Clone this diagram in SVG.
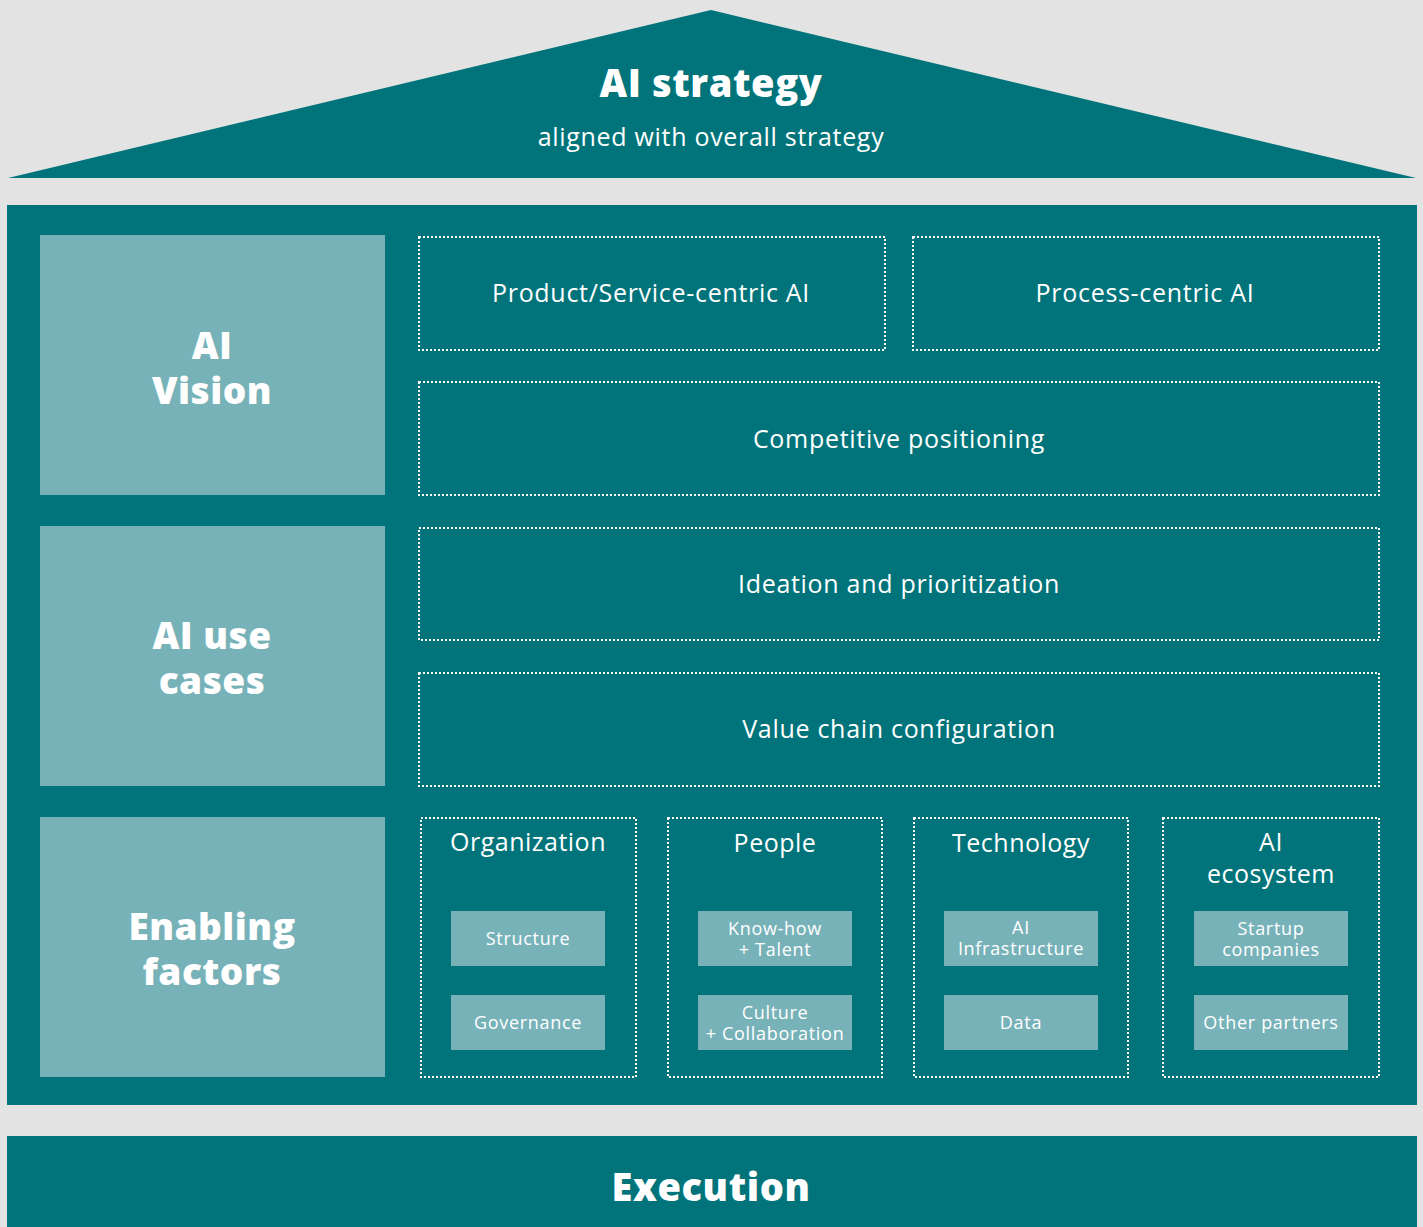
<svg xmlns="http://www.w3.org/2000/svg" width="1423" height="1227" viewBox="0 0 1423 1227">
<style>
.teal{fill:#00747a}
.light{fill:#78b2b9}
.dot{fill:none;stroke:#ffffff;stroke-width:2;stroke-dasharray:2 2}
text{font-family:"Open Sans","Liberation Sans",sans-serif;fill:#ffffff;text-anchor:middle}
.big{font-weight:800;font-size:37px;letter-spacing:0.5px}
.title{font-weight:800;font-size:38px;letter-spacing:0.6px}
.lbl{font-size:25px;letter-spacing:0.7px}
.cat{font-size:25px;letter-spacing:0.5px}
.sm{font-size:18px;letter-spacing:0.7px}
</style>
<rect width="1423" height="1227" fill="#e3e3e3"/>
<g id="roof">
<polygon class="teal" points="711,10 1416,178 8,178"/>
<text class="title" x="711" y="97">AI strategy</text>
<text class="lbl" x="711" y="146">aligned with overall strategy</text>
</g>
<g id="body">
<rect class="teal" x="7" y="205" width="1410" height="900"/>
</g>
<g id="ai-vision">
<rect class="light" x="40" y="235" width="345" height="260"/>
<text class="big"><tspan x="212" y="359">AI</tspan><tspan x="212" y="404">Vision</tspan></text>
</g>
<g id="ai-use-cases">
<rect class="light" x="40" y="526" width="345" height="260"/>
<text class="big"><tspan x="212" y="649">AI use</tspan><tspan x="212" y="694">cases</tspan></text>
</g>
<g id="enabling-factors">
<rect class="light" x="40" y="817" width="345" height="260"/>
<text class="big"><tspan x="212" y="940">Enabling</tspan><tspan x="212" y="985">factors</tspan></text>
</g>
<g id="product-service">
<rect class="dot" x="419" y="237" width="466" height="113"/>
<text class="lbl" x="651" y="302">Product/Service-centric AI</text>
</g>
<g id="process">
<rect class="dot" x="913" y="237" width="466" height="113"/>
<text class="lbl" x="1145" y="302">Process-centric AI</text>
</g>
<g id="competitive">
<rect class="dot" x="419" y="382" width="960" height="113"/>
<text class="lbl" x="899" y="448">Competitive positioning</text>
</g>
<g id="ideation">
<rect class="dot" x="419" y="528" width="960" height="112"/>
<text class="lbl" x="899" y="593">Ideation and prioritization</text>
</g>
<g id="value-chain">
<rect class="dot" x="419" y="673" width="960" height="113"/>
<text class="lbl" x="899" y="738">Value chain configuration</text>
</g>
<g id="organization">
<rect class="dot" x="421" y="818" width="215" height="259"/>
<text class="cat" x="528" y="851">Organization</text>
<rect class="light" x="451" y="911" width="154" height="55"/>
<text class="sm" x="528" y="945">Structure</text>
<rect class="light" x="451" y="995" width="154" height="55"/>
<text class="sm" x="528" y="1029">Governance</text>
</g>
<g id="people">
<rect class="dot" x="668" y="818" width="214" height="259"/>
<text class="cat" x="775" y="852">People</text>
<rect class="light" x="698" y="911" width="154" height="55"/>
<text class="sm"><tspan x="775" y="935">Know-how</tspan><tspan x="775" y="956">+ Talent</tspan></text>
<rect class="light" x="698" y="995" width="154" height="55"/>
<text class="sm"><tspan x="775" y="1019">Culture</tspan><tspan x="775" y="1040">+ Collaboration</tspan></text>
</g>
<g id="technology">
<rect class="dot" x="914" y="818" width="214" height="259"/>
<text class="cat" x="1021" y="852">Technology</text>
<rect class="light" x="944" y="911" width="154" height="55"/>
<text class="sm"><tspan x="1021" y="934">AI</tspan><tspan x="1021" y="955">Infrastructure</tspan></text>
<rect class="light" x="944" y="995" width="154" height="55"/>
<text class="sm" x="1021" y="1029">Data</text>
</g>
<g id="ai-ecosystem">
<rect class="dot" x="1163" y="818" width="216" height="259"/>
<text class="cat"><tspan x="1271" y="851">AI</tspan><tspan x="1271" y="883">ecosystem</tspan></text>
<rect class="light" x="1194" y="911" width="154" height="55"/>
<text class="sm"><tspan x="1271" y="935">Startup</tspan><tspan x="1271" y="956">companies</tspan></text>
<rect class="light" x="1194" y="995" width="154" height="55"/>
<text class="sm" x="1271" y="1029">Other partners</text>
</g>
<g id="execution">
<rect class="teal" x="7" y="1136" width="1410" height="91"/>
<text class="title" x="711" y="1201">Execution</text>
</g>
<g id="connectors"/>
</svg>
